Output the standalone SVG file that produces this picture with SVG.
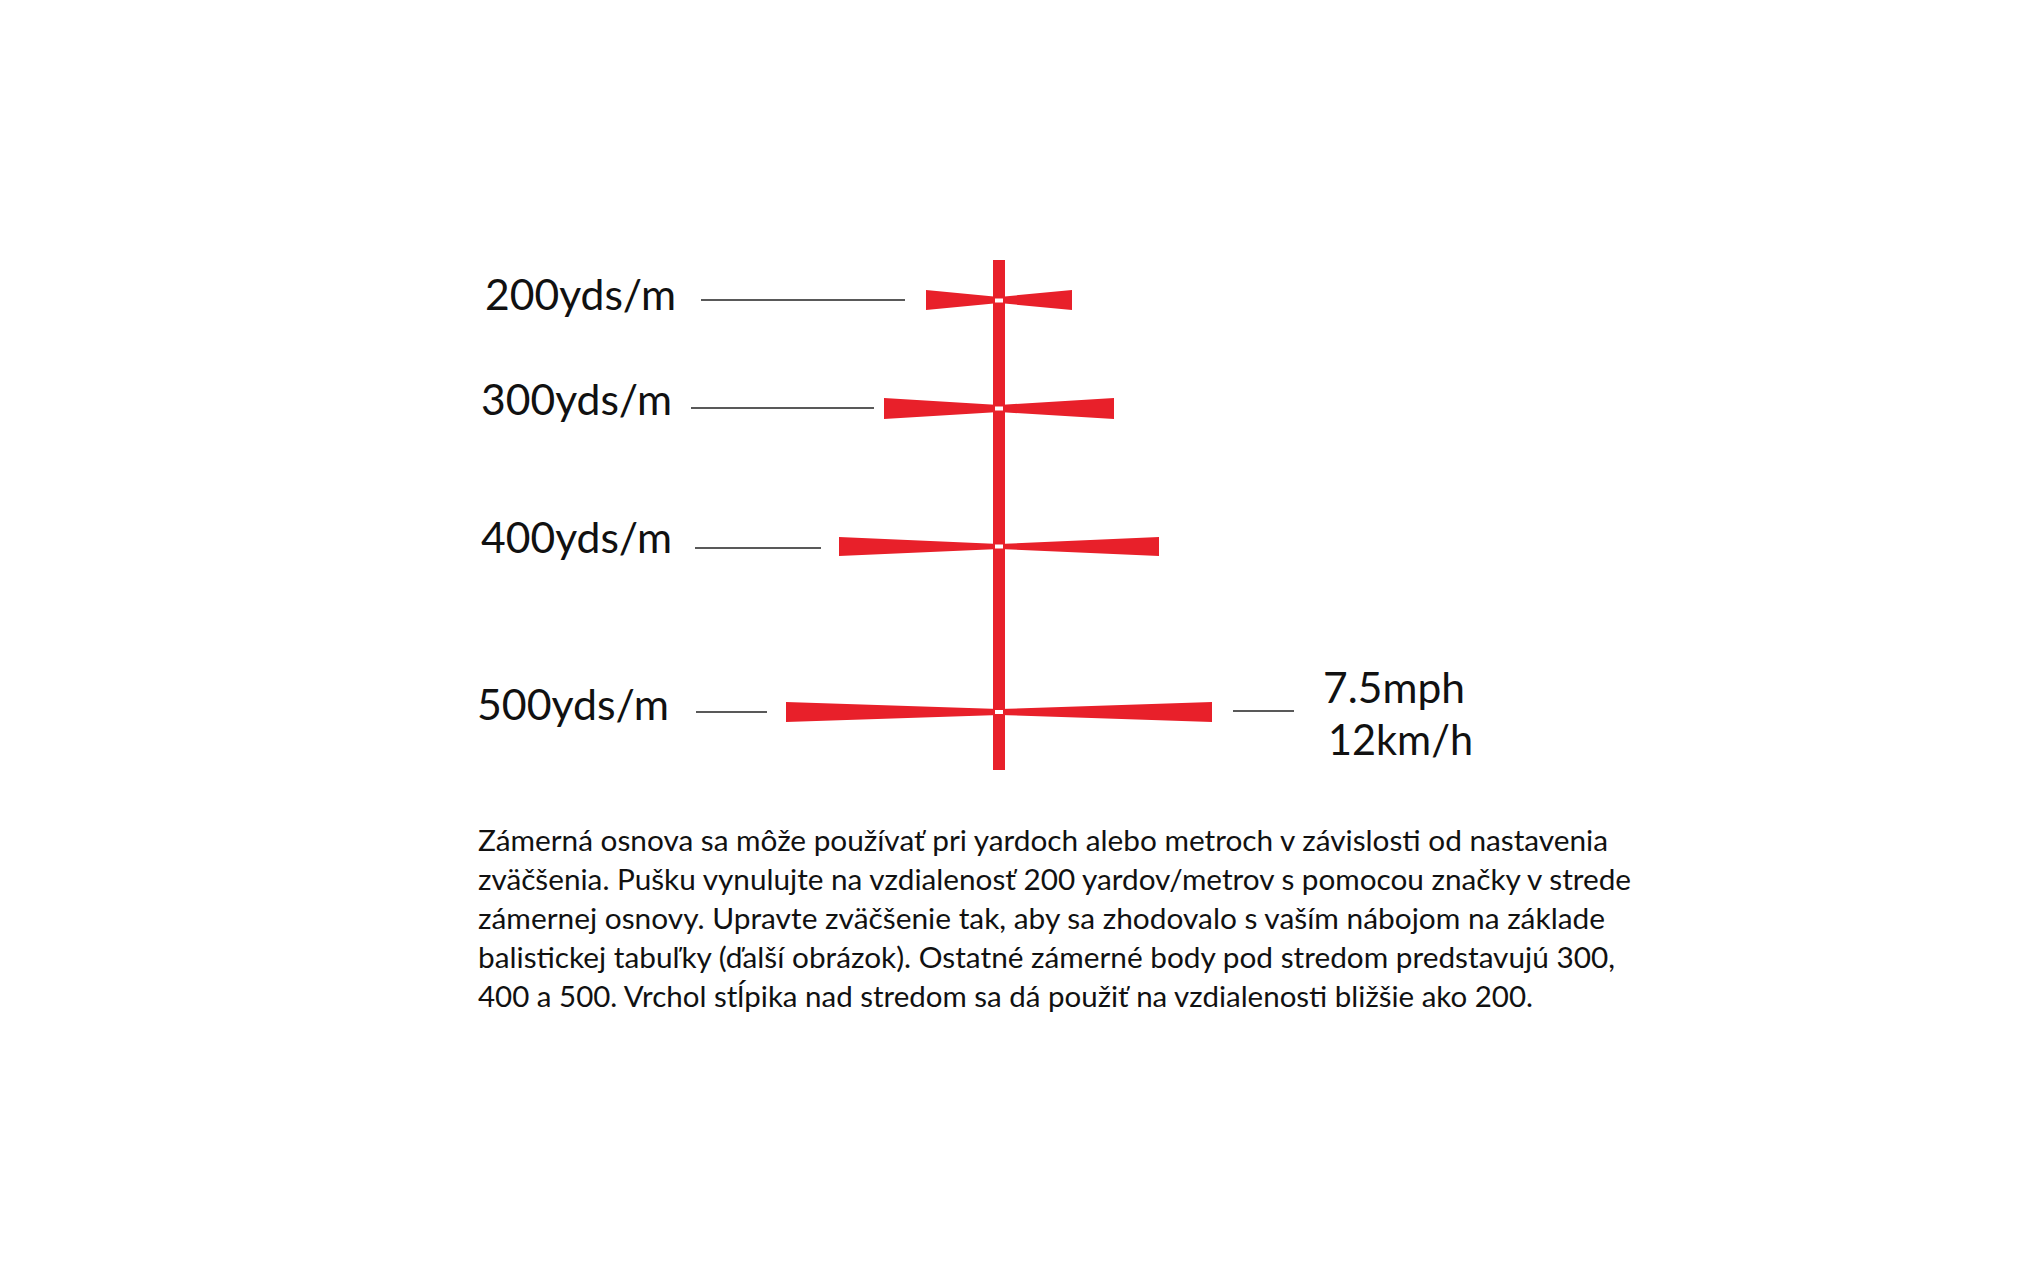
<svg xmlns="http://www.w3.org/2000/svg" width="2026" height="1272" viewBox="0 0 2026 1272">
<style>
.red{fill:#E8202A}
.dot{fill:#ffffff}
.lbl{font-family:Lato,"Open Sans","Liberation Sans",sans-serif;font-size:42px;fill:#111111}
.para{font-family:Lato,"Open Sans","Liberation Sans",sans-serif;font-size:29px;fill:#111111}
.lead{stroke:#222222;stroke-width:1.6;fill:none}
</style>
<rect x="0" y="0" width="2026" height="1272" fill="#ffffff"/>
<g id="reticle">
  <rect class="red" x="993" y="260" width="12" height="510"/>
  <polygon class="red" points="926,290 999,297 1072,290 1072,310 999,303 926,310"/>
  <polygon class="red" points="884,398 999,405 1114,398 1114,419 999,412 884,419"/>
  <polygon class="red" points="839,537 999,544 1159,537 1159,556 999,549 839,556"/>
  <polygon class="red" points="786,702 999,709 1212,702 1212,722 999,715 786,722"/>
  <rect class="dot" x="995" y="298.5" width="8" height="4"/>
  <rect class="dot" x="995" y="406.5" width="8" height="4"/>
  <rect class="dot" x="995" y="544.5" width="8" height="4"/>
  <rect class="dot" x="995" y="710" width="8" height="4"/>
</g>
<g id="label-200"><text class="lbl" x="485" y="310" textLength="191" lengthAdjust="spacingAndGlyphs">200yds/m</text></g>
<g id="label-300"><text class="lbl" x="481" y="415" textLength="191" lengthAdjust="spacingAndGlyphs">300yds/m</text></g>
<g id="label-400"><text class="lbl" x="481" y="553" textLength="191" lengthAdjust="spacingAndGlyphs">400yds/m</text></g>
<g id="label-500"><text class="lbl" x="477" y="720" textLength="192" lengthAdjust="spacingAndGlyphs">500yds/m</text></g>
<g id="label-wind">
  <text class="lbl" x="1323" y="703" textLength="142" lengthAdjust="spacingAndGlyphs">7.5mph</text>
  <text class="lbl" x="1328" y="755" textLength="145" lengthAdjust="spacingAndGlyphs">12km/h</text>
</g>
<g id="connectors">
  <line class="lead" x1="701" y1="300" x2="905" y2="300"/>
  <line class="lead" x1="691" y1="408" x2="874" y2="408"/>
  <line class="lead" x1="695" y1="548" x2="821" y2="548"/>
  <line class="lead" x1="696" y1="712" x2="767" y2="712"/>
  <line class="lead" x1="1233" y1="711" x2="1294" y2="711"/>
</g>
<g id="description">
  <text class="para" x="478" y="851" textLength="1130" lengthAdjust="spacingAndGlyphs">Zámerná osnova sa môže používať pri yardoch alebo metroch v závislosti od nastavenia</text>
  <text class="para" x="478" y="890" textLength="1153" lengthAdjust="spacingAndGlyphs">zväčšenia. Pušku vynulujte na vzdialenosť 200 yardov/metrov s pomocou značky v strede</text>
  <text class="para" x="478" y="929" textLength="1127" lengthAdjust="spacingAndGlyphs">zámernej osnovy. Upravte zväčšenie tak, aby sa zhodovalo s vaším nábojom na základe</text>
  <text class="para" x="478" y="968" textLength="1137" lengthAdjust="spacingAndGlyphs">balistickej tabuľky (ďalší obrázok). Ostatné zámerné body pod stredom predstavujú 300,</text>
  <text class="para" x="478" y="1007" textLength="1055" lengthAdjust="spacingAndGlyphs">400 a 500. Vrchol stĺpika nad stredom sa dá použiť na vzdialenosti bližšie ako 200.</text>
</g>
</svg>
